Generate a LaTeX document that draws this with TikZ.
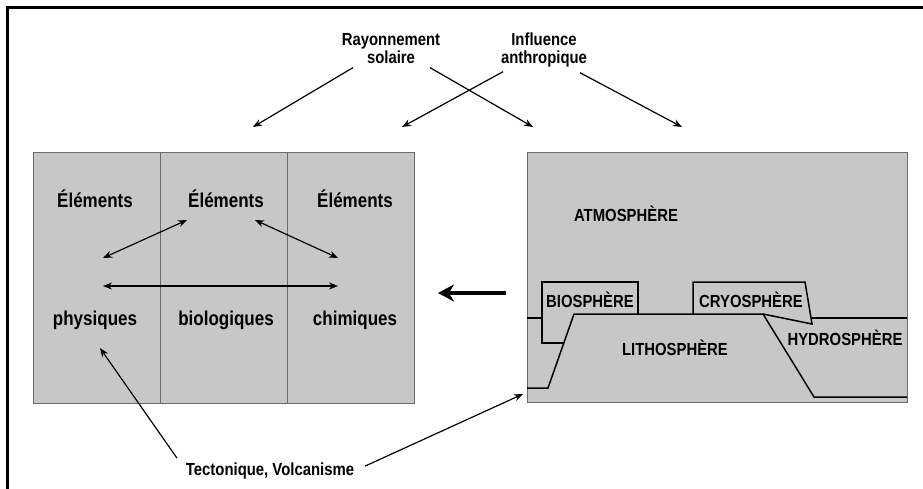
\documentclass[tikz,border=0pt]{standalone}
\usepackage{fontspec}
\setmainfont{Liberation Sans}[FakeStretch=0.85]
\usetikzlibrary{arrows.meta}
\definecolor{fondgris}{gray}{0.78}
\definecolor{traitgris}{gray}{0.42}
\tikzset{
  txt/.style={font=\bfseries\fontsize{17.5}{18}\selectfont,inner sep=0pt,anchor=base},
  grandtxt/.style={font=\bfseries\fontsize{20}{21}\selectfont,inner sep=0pt,anchor=base},
  fl/.style={line width=1.2pt,-{Stealth[length=9pt,width=7pt]}},
  dfl/.style={line width=1.2pt,{Stealth[length=9pt,width=7pt]}-{Stealth[length=9pt,width=7pt]}},
  relief/.style={line width=1.5pt,line join=miter}
}
\begin{document}
\begin{tikzpicture}[x=1pt,y=-1pt]
			\useasboundingbox (0,0) rectangle (923,488);
			\draw[line width=3pt] (7,490) -- (7,7) -- (925,7);
			% boites
			\draw[fill=fondgris,draw=traitgris,line width=1pt] (33,152) rectangle (414,403);
			\draw[traitgris,line width=1pt] (160,152) -- (160,403) (287,152) -- (287,403);
			\draw[fill=fondgris,draw=traitgris,line width=1pt] (527,152) rectangle (907,402);
			% textes du haut
			\node[txt,align=center,anchor=north] (ray) at (391,33) {Rayonnement\\solaire};
			\node[txt,align=center,anchor=north] (inf) at (544,33) {Influence\\anthropique};
			\coordinate (c1) at (253,127);
			\coordinate (c2) at (402,127);
			\coordinate (c3) at (533,127);
			\coordinate (c4) at (682,127);
			\draw[fl] ([shift={(-38,4)}]ray.south) -- (c1);
			\draw[fl] ([shift={(39,4)}]ray.south) -- (c3);
			\draw[fl] ([shift={(-41,4)}]inf.south) -- (c2);
			\draw[fl] ([shift={(36,5)}]inf.south) -- (c4);
			% boite de gauche
			\node[grandtxt] (e1) at (95,207) {Éléments};
			\node[grandtxt] (e2) at (226,207) {Éléments};
			\node[grandtxt] (e3) at (355,207) {Éléments};
			\node[grandtxt] (phy) at (95,325) {physiques};
			\node[grandtxt] (bio) at (226,325) {biologiques};
			\node[grandtxt] (chi) at (355,325) {chimiques};
			\coordinate (pa) at (103,258);
			\coordinate (pb) at (187,220);
			\coordinate (pc) at (255,220);
			\coordinate (pd) at (338,258);
			\coordinate (pe) at (103,286);
			\coordinate (pf) at (338,286);
			\draw[dfl] (pa) -- (pb);
			\draw[dfl] (pc) -- (pd);
			\draw[dfl] (pe) -- (pf);
			% boite de droite
			\draw[relief] (527,318) -- (542,318);
			\draw[relief] (563,343) -- (542,343) -- (542,282) -- (638,282) -- (638,314);
			\draw[relief] (527,388) -- (548,388) -- (574,314) -- (763,314) -- (814,397) -- (907,397);
			\draw[relief] (693,314) -- (693,282) -- (805,282) -- (812,324) -- (763,314);
			\draw[relief] (812,318) -- (907,318);
			\node[txt] (atm) at (626,221) {ATMOSPHÈRE};
			\node[txt] (bsp) at (590,307) {BIOSPHÈRE};
			\node[txt] (csp) at (751,307) {CRYOSPHÈRE};
			\node[txt] (lsp) at (675,355) {LITHOSPHÈRE};
			\node[txt] (hsp) at (845,345) {HYDROSPHÈRE};
			\coordinate (gd) at (506,293);
			\coordinate (gg) at (438,293);
			\draw[line width=4.5pt,-{Stealth[length=16pt,width=17pt]}] (gd) -- (gg);
			% bas
			\node[txt] (tec) at (270,475) {Tectonique, Volcanisme};
			\coordinate (t1) at (100,348);
			\coordinate (t2) at (523,394);
			\draw[fl] ([shift={(-93,-4)}]tec.north) -- (t1);
			\draw[fl] ([shift={(95,4)}]tec.north) -- (t2);
		\end{tikzpicture}
\end{document}
